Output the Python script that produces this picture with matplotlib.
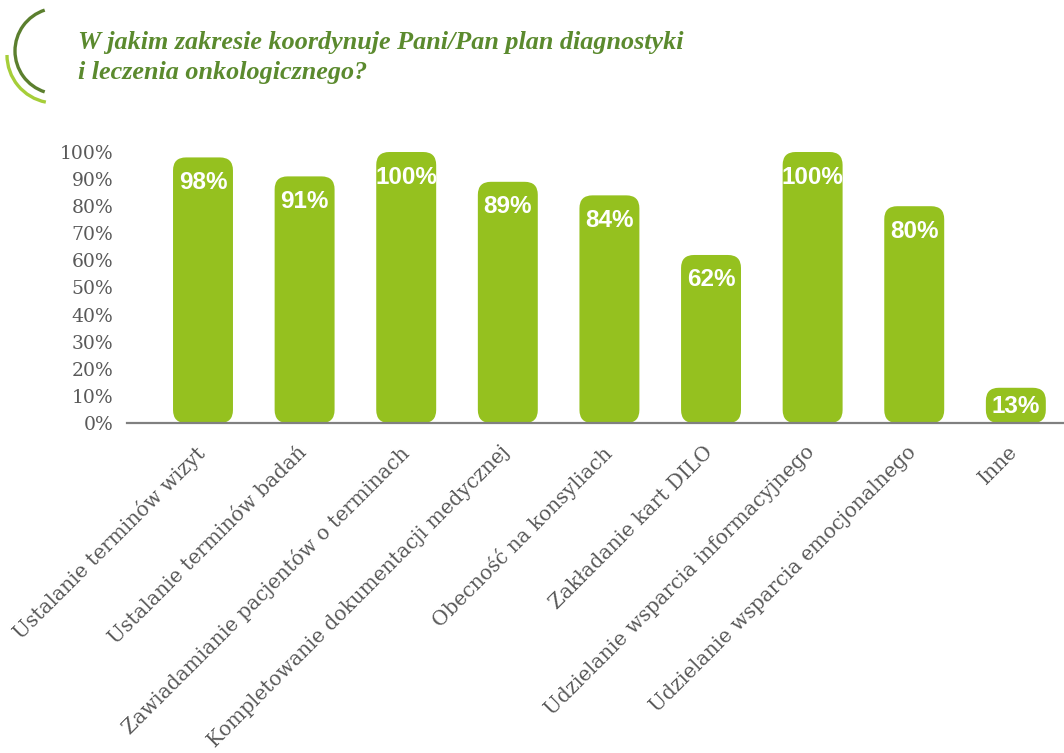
import matplotlib
matplotlib.use("Agg")
import matplotlib.pyplot as plt
from matplotlib.patches import FancyBboxPatch, Arc

categories = [
    "Ustalanie terminów wizyt",
    "Ustalanie terminów badań",
    "Zawiadamianie pacjentów o terminach",
    "Kompletowanie dokumentacji medycznej",
    "Obecność na konsyliach",
    "Zakładanie kart DILO",
    "Udzielanie wsparcia informacyjnego",
    "Udzielanie wsparcia emocjonalnego",
    "Inne",
]
values = [98, 91, 100, 89, 84, 62, 100, 80, 13]
yticks = [0, 10, 20, 30, 40, 50, 60, 70, 80, 90, 100]
title_lines = ["W jakim zakresie koordynuje Pani/Pan plan diagnostyki",
               "i leczenia onkologicznego?"]

BAR = "#95c11f"
TITLE = "#5b8a2e"
GRAY = "#595959"

W, H = 1064, 753
fig = plt.figure(figsize=(W / 100, H / 100), dpi=100)

# main axes (pixel placement)
ax_l, ax_r = 127, 1064
ax_b, ax_t = 423, 152
ax = fig.add_axes([ax_l / W, (H - ax_b) / H, (ax_r - ax_l) / W, (ax_b - ax_t) / H])
xlo, xhi = -0.748, 8.474
ax.set_xlim(xlo, xhi)
ax.set_ylim(0, 100)

bars = ax.bar(range(len(values)), values, width=0.59, color=BAR)
ppx = (ax_r - ax_l) / (xhi - xlo)
ppy = (ax_b - ax_t) / 100.0
r_px = 13
for b in bars:
    b.set_visible(False)
    x, y = b.get_x(), b.get_y()
    w, h = b.get_width(), b.get_height()
    p = FancyBboxPatch((x, y), w, h,
                       boxstyle="round,pad=0,rounding_size=%f" % (r_px / ppx),
                       mutation_aspect=ppx / ppy,
                       facecolor=BAR, edgecolor="none", clip_on=False)
    ax.add_patch(p)

for i, v in enumerate(values):
    off = -19 if v < 20 else -25
    ax.annotate(f"{v}%", (i, v), xytext=(0, off), textcoords="offset pixels",
                ha="center", va="center", color="white", fontsize=17.5,
                fontweight="bold", family=["Liberation Sans", "DejaVu Sans"])

ax.set_yticks(yticks)
ax.set_yticklabels([f"{t}%" for t in yticks], family="DejaVu Serif",
                   fontsize=13.5, color=GRAY)
label_shift = 8 / ppx  # labels sit slightly left of bar centres
ax.set_xticks([i - label_shift for i in range(len(categories))])
ax.set_xticklabels(categories, rotation=45, ha="right", rotation_mode="anchor",
                   family="DejaVu Serif", fontsize=14.5, color=GRAY)
ax.tick_params(axis="y", length=0, pad=10)
ax.tick_params(axis="x", length=0, pad=14)
for s in ["left", "right", "top"]:
    ax.spines[s].set_visible(False)
ax.spines["bottom"].set_color("#808080")
ax.spines["bottom"].set_linewidth(1.6)
ax.patch.set_visible(False)

# overlay for title and decoration
ov = fig.add_axes([0, 0, 1, 1], zorder=-1)
ov.set_xlim(0, W)
ov.set_ylim(H, 0)
ov.axis("off")
ov.add_patch(Arc((58, 51), 86, 86, theta1=108, theta2=252, color="#5b7f2e", lw=2.4))
ov.add_patch(Arc((55, 55), 96, 96, theta1=101, theta2=180, color="#a6ce39", lw=2.4))
ov.text(78, 42, title_lines[0], family="Liberation Serif", fontsize=18.8,
        fontweight="bold", style="italic", color=TITLE, va="center", ha="left")
ov.text(78, 72, title_lines[1], family="Liberation Serif", fontsize=18.8,
        fontweight="bold", style="italic", color=TITLE, va="center", ha="left")

fig.savefig("out.png", dpi=100)
